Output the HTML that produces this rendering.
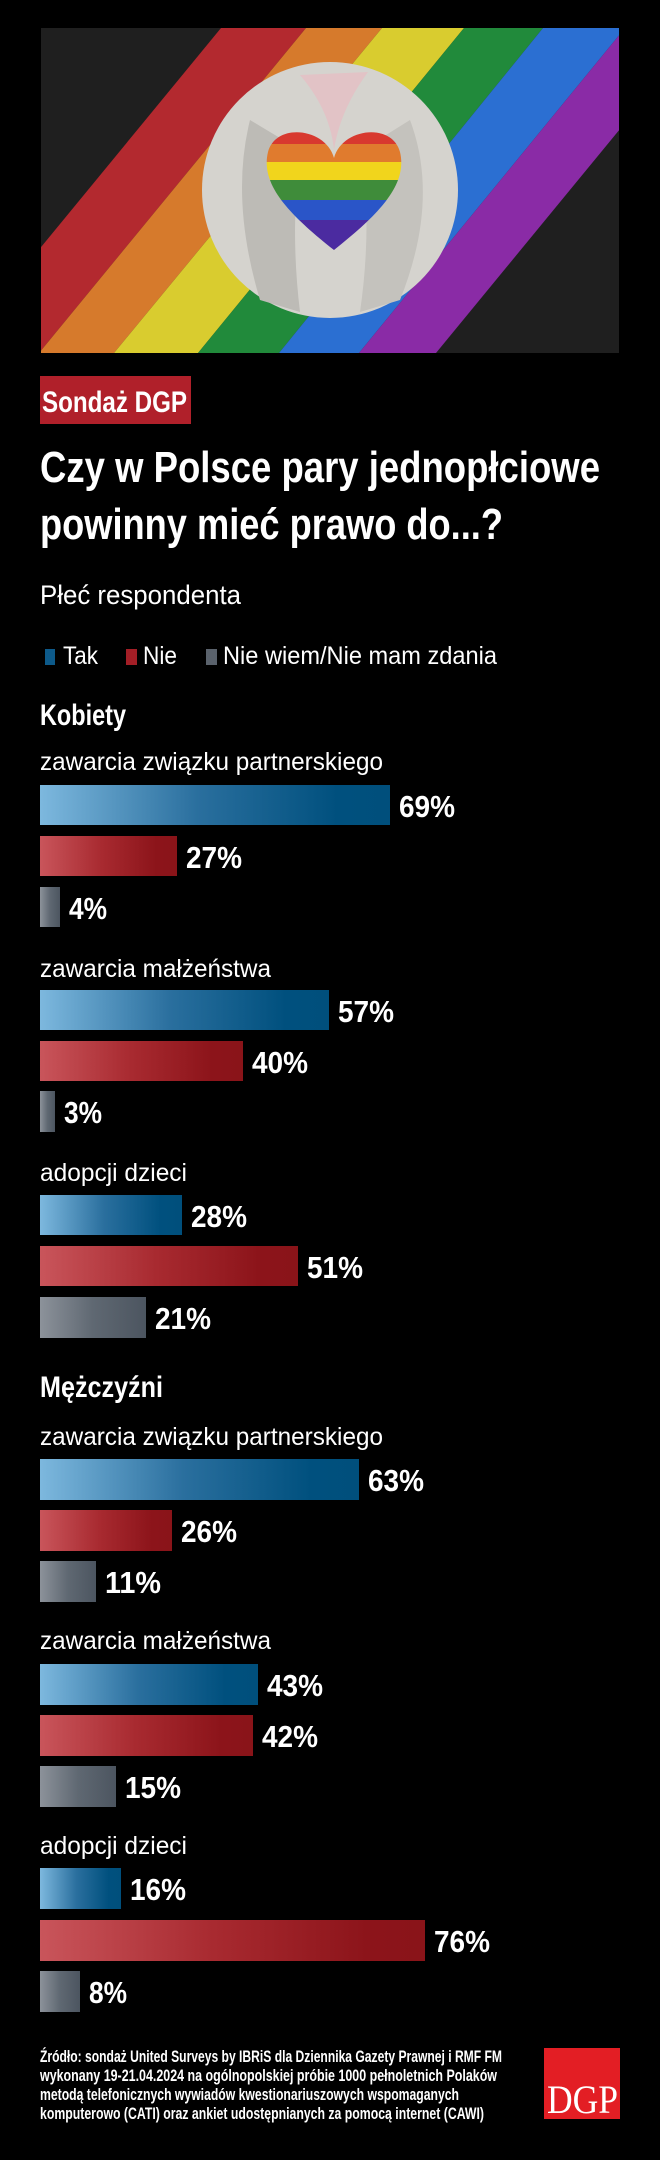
<!DOCTYPE html>
<html><head><meta charset="utf-8"><style>
html,body{margin:0;padding:0;background:#000;}
svg{display:block}
text{font-family:"Liberation Sans",sans-serif;fill:#fff}
.b{font-weight:bold}
</style></head><body>
<svg width="660" height="2160" viewBox="0 0 660 2160" xmlns="http://www.w3.org/2000/svg">
<defs>
<linearGradient id="gb" x1="0" x2="1" y1="0" y2="0"><stop offset="0" stop-color="#7db8de"/><stop offset="0.45" stop-color="#2a6f9e"/><stop offset="0.85" stop-color="#00507e"/><stop offset="1" stop-color="#004f7c"/></linearGradient>
<linearGradient id="gr" x1="0" x2="1" y1="0" y2="0"><stop offset="0" stop-color="#c9555b"/><stop offset="0.45" stop-color="#a82a30"/><stop offset="0.85" stop-color="#8c141a"/><stop offset="1" stop-color="#8a1419"/></linearGradient>
<linearGradient id="gg" x1="0" x2="1" y1="0" y2="0"><stop offset="0" stop-color="#8c929a"/><stop offset="0.5" stop-color="#5f6872"/><stop offset="1" stop-color="#4c5560"/></linearGradient>
<clipPath id="ic"><rect x="41" y="28" width="578" height="325"/></clipPath>
<clipPath id="hc"><path d="M334 158 C326 128 276 122 268 152 C260 185 290 215 334 250 C378 215 408 185 400 152 C392 122 342 128 334 158 Z"/></clipPath>
</defs>
<rect width="660" height="2160" fill="#000"/>
<g clip-path="url(#ic)">
<rect x="41" y="28" width="578" height="325" fill="#1f1f1f"/>
<polygon points="221,28 306,28 39,353 -46,353" fill="#b3292f"/>
<polygon points="306,28 382,28 114,353 39,353" fill="#d67a2c"/>
<polygon points="382,28 464,28 198,353 114,353" fill="#d9cc2f"/>
<polygon points="464,28 543,28 279,353 198,353" fill="#218a3b"/>
<polygon points="543,28 625,28 359,353 279,353" fill="#2b6fd2"/>
<polygon points="625,28 703,28 436,353 359,353" fill="#8a2ba6"/>
<ellipse cx="330" cy="190" rx="128" ry="128" fill="#d5d3ce"/>
<path d="M300 75 Q330 110 334 150 Q340 110 368 72 Z" fill="#e2c3c6"/>
<path d="M250 120 Q230 200 260 300 L300 312 Q290 230 300 150 Z" fill="#bdbbb6"/>
<path d="M410 120 Q440 200 400 300 L360 312 Q372 230 362 150 Z" fill="#c4c2bd"/>
<g clip-path="url(#hc)">
<rect x="260" y="120" width="150" height="24" fill="#d8392f"/>
<rect x="260" y="144" width="150" height="18" fill="#e07b2e"/>
<rect x="260" y="162" width="150" height="18" fill="#f1d51c"/>
<rect x="260" y="180" width="150" height="20" fill="#3f8c3a"/>
<rect x="260" y="200" width="150" height="20" fill="#2a55c8"/>
<rect x="260" y="220" width="150" height="35" fill="#4b2ba0"/>
</g>
</g>
<rect x="40" y="376" width="151" height="48" fill="#b0202a"/>
<text x="42" y="412" class="b" font-size="30" textLength="145" lengthAdjust="spacingAndGlyphs">Sondaż DGP</text>
<text x="40" y="482" class="b" font-size="44" textLength="560" lengthAdjust="spacingAndGlyphs">Czy w Polsce pary jednopłciowe</text>
<text x="40" y="539" class="b" font-size="44" textLength="463" lengthAdjust="spacingAndGlyphs">powinny mieć prawo do...?</text>
<text x="40" y="604" font-size="27" textLength="201" lengthAdjust="spacingAndGlyphs">Płeć respondenta</text>
<rect x="45" y="649" width="10" height="16" fill="#0d5a8a"/>
<text x="63" y="664" font-size="25" textLength="35" lengthAdjust="spacingAndGlyphs">Tak</text>
<rect x="126" y="649" width="11" height="16" fill="#a31e26"/>
<text x="143" y="664" font-size="25" textLength="34" lengthAdjust="spacingAndGlyphs">Nie</text>
<rect x="206" y="649" width="11" height="16" fill="#5a626c"/>
<text x="223" y="664" font-size="25" textLength="274" lengthAdjust="spacingAndGlyphs">Nie wiem/Nie mam zdania</text>
<text x="40" y="725" class="b" font-size="30" textLength="86" lengthAdjust="spacingAndGlyphs">Kobiety</text>
<text x="40" y="770" font-size="25" textLength="343" lengthAdjust="spacingAndGlyphs">zawarcia związku partnerskiego</text>
<rect x="40" y="785" width="350" height="40" fill="url(#gb)"/><text x="399" y="817" class="b" font-size="31" textLength="56" lengthAdjust="spacingAndGlyphs">69%</text>
<rect x="40" y="836" width="137" height="40" fill="url(#gr)"/><text x="186" y="868" class="b" font-size="31" textLength="56" lengthAdjust="spacingAndGlyphs">27%</text>
<rect x="40" y="887" width="20" height="40" fill="url(#gg)"/><text x="69" y="919" class="b" font-size="31" textLength="38" lengthAdjust="spacingAndGlyphs">4%</text>
<text x="40" y="977" font-size="25" textLength="231" lengthAdjust="spacingAndGlyphs">zawarcia małżeństwa</text>
<rect x="40" y="990" width="289" height="40" fill="url(#gb)"/><text x="338" y="1022" class="b" font-size="31" textLength="56" lengthAdjust="spacingAndGlyphs">57%</text>
<rect x="40" y="1041" width="203" height="40" fill="url(#gr)"/><text x="252" y="1073" class="b" font-size="31" textLength="56" lengthAdjust="spacingAndGlyphs">40%</text>
<rect x="40" y="1091" width="15" height="41" fill="url(#gg)"/><text x="64" y="1123" class="b" font-size="31" textLength="38" lengthAdjust="spacingAndGlyphs">3%</text>
<text x="40" y="1181" font-size="25" textLength="147" lengthAdjust="spacingAndGlyphs">adopcji dzieci</text>
<rect x="40" y="1195" width="142" height="40" fill="url(#gb)"/><text x="191" y="1227" class="b" font-size="31" textLength="56" lengthAdjust="spacingAndGlyphs">28%</text>
<rect x="40" y="1246" width="258" height="40" fill="url(#gr)"/><text x="307" y="1278" class="b" font-size="31" textLength="56" lengthAdjust="spacingAndGlyphs">51%</text>
<rect x="40" y="1297" width="106" height="41" fill="url(#gg)"/><text x="155" y="1329" class="b" font-size="31" textLength="56" lengthAdjust="spacingAndGlyphs">21%</text>
<text x="40" y="1397" class="b" font-size="30" textLength="123" lengthAdjust="spacingAndGlyphs">Mężczyźni</text>
<text x="40" y="1445" font-size="25" textLength="343" lengthAdjust="spacingAndGlyphs">zawarcia związku partnerskiego</text>
<rect x="40" y="1459" width="319" height="41" fill="url(#gb)"/><text x="368" y="1491" class="b" font-size="31" textLength="56" lengthAdjust="spacingAndGlyphs">63%</text>
<rect x="40" y="1510" width="132" height="41" fill="url(#gr)"/><text x="181" y="1542" class="b" font-size="31" textLength="56" lengthAdjust="spacingAndGlyphs">26%</text>
<rect x="40" y="1561" width="56" height="41" fill="url(#gg)"/><text x="105" y="1593" class="b" font-size="31" textLength="56" lengthAdjust="spacingAndGlyphs">11%</text>
<text x="40" y="1649" font-size="25" textLength="231" lengthAdjust="spacingAndGlyphs">zawarcia małżeństwa</text>
<rect x="40" y="1664" width="218" height="41" fill="url(#gb)"/><text x="267" y="1696" class="b" font-size="31" textLength="56" lengthAdjust="spacingAndGlyphs">43%</text>
<rect x="40" y="1715" width="213" height="41" fill="url(#gr)"/><text x="262" y="1747" class="b" font-size="31" textLength="56" lengthAdjust="spacingAndGlyphs">42%</text>
<rect x="40" y="1766" width="76" height="41" fill="url(#gg)"/><text x="125" y="1798" class="b" font-size="31" textLength="56" lengthAdjust="spacingAndGlyphs">15%</text>
<text x="40" y="1854" font-size="25" textLength="147" lengthAdjust="spacingAndGlyphs">adopcji dzieci</text>
<rect x="40" y="1868" width="81" height="41" fill="url(#gb)"/><text x="130" y="1900" class="b" font-size="31" textLength="56" lengthAdjust="spacingAndGlyphs">16%</text>
<rect x="40" y="1920" width="385" height="41" fill="url(#gr)"/><text x="434" y="1952" class="b" font-size="31" textLength="56" lengthAdjust="spacingAndGlyphs">76%</text>
<rect x="40" y="1971" width="40" height="41" fill="url(#gg)"/><text x="89" y="2003" class="b" font-size="31" textLength="38" lengthAdjust="spacingAndGlyphs">8%</text>
<text x="40" y="2062" class="b" font-size="17" textLength="462" lengthAdjust="spacingAndGlyphs">Źródło: sondaż United Surveys by IBRiS dla Dziennika Gazety Prawnej i RMF FM</text>
<text x="40" y="2081" class="b" font-size="17" textLength="457" lengthAdjust="spacingAndGlyphs">wykonany 19-21.04.2024 na ogólnopolskiej próbie 1000 pełnoletnich Polaków</text>
<text x="40" y="2100" class="b" font-size="17" textLength="419" lengthAdjust="spacingAndGlyphs">metodą telefonicznych wywiadów kwestionariuszowych wspomaganych</text>
<text x="40" y="2119" class="b" font-size="17" textLength="444" lengthAdjust="spacingAndGlyphs">komputerowo (CATI) oraz ankiet udostępnianych za pomocą internet (CAWI)</text>
<rect x="544" y="2048" width="76" height="71" fill="#e31e24"/>
<text x="547" y="2113" font-size="40" textLength="71" lengthAdjust="spacingAndGlyphs" style="font-family:'Liberation Serif',serif">DGP</text>
</svg>
</body></html>
